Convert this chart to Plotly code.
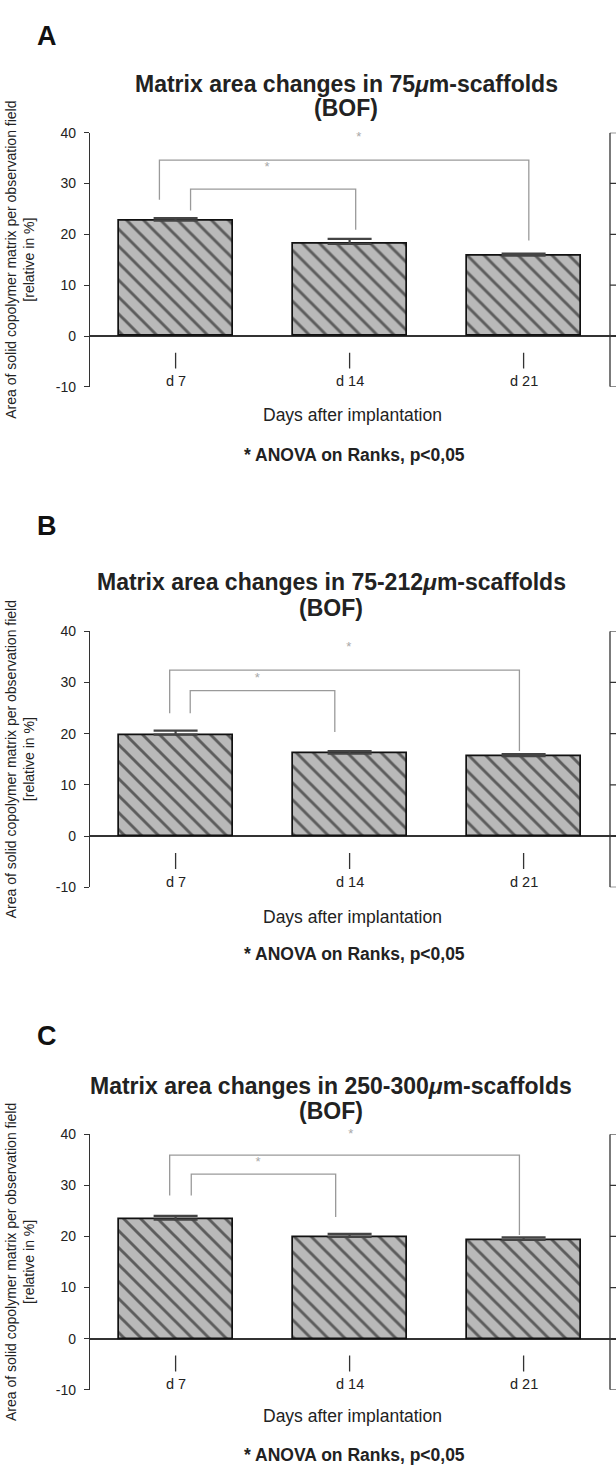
import plotly.graph_objects as go

W, H = 616, 1474

# ---------------- data ----------------
categories = ["d 7", "d 14", "d 21"]
panel_letters = ["A", "B", "C"]
titles = ["Matrix area changes in 75<i>μ</i>m-scaffolds",
          "Matrix area changes in 75-212<i>μ</i>m-scaffolds",
          "Matrix area changes in 250-300<i>μ</i>m-scaffolds"]
subtitle = "(BOF)"
means_A = [22.7, 18.1, 15.8]
sem_A = [0.5, 1.0, 0.4]
means_B = [19.8, 16.1, 15.6]
sem_B = [0.8, 0.5, 0.4]
means_C = [23.3, 19.9, 19.3]
sem_C = [0.7, 0.6, 0.5]
y_ticks = [-10, 0, 10, 20, 30, 40]
y_ticktext = ["-10", "0", "10", "20", "30", "40"]
x_title = "Days after implantation"
y_title = "Area of solid copolymer matrix per observation field<br>[relative in %]"
note = "* ANOVA on Ranks, p<0,05"

# significance brackets (x in category units, y in %)
outer_x_A = [-0.093, -0.093, 2.03, 2.03]
outer_y_A = [26.8, 34.6, 34.6, 18.8]
inner_x_A = [0.086, 0.086, 1.035, 1.035]
inner_y_A = [24.7, 28.9, 28.9, 20.9]
star_x_A = [1.053, 0.525]
star_y_A = [39.0, 33.0]

outer_x_B = [-0.034, -0.034, 1.976, 1.976]
outer_y_B = [24.0, 32.4, 32.4, 16.6]
inner_x_B = [0.084, 0.084, 0.915, 0.915]
inner_y_B = [24.0, 28.4, 28.4, 20.3]
star_x_B = [0.996, 0.47]
star_y_B = [36.7, 30.8]

outer_x_C = [-0.034, -0.034, 1.976, 1.976]
outer_y_C = [28.0, 35.9, 35.9, 20.3]
inner_x_C = [0.09, 0.09, 0.92, 0.92]
inner_y_C = [28.0, 32.2, 32.2, 23.8]
star_x_C = [1.007, 0.474]
star_y_C = [39.8, 34.4]

panels = [
    dict(means=means_A, sem=sem_A, ox=outer_x_A, oy=outer_y_A, ix=inner_x_A, iy=inner_y_A,
         sx=star_x_A, sy=star_y_A,
         top=126, bottom=383, letter_y=28, title_y=76.5, sub_y=101.5, days_y=411.5, note_y=451.5, title_x=346),
    dict(means=means_B, sem=sem_B, ox=outer_x_B, oy=outer_y_B, ix=inner_x_B, iy=inner_y_B,
         sx=star_x_B, sy=star_y_B,
         top=630, bottom=889, letter_y=524, title_y=580.5, sub_y=606.5, days_y=918.5, note_y=956.5, title_x=331),
    dict(means=means_C, sem=sem_C, ox=outer_x_C, oy=outer_y_C, ix=inner_x_C, iy=inner_y_C,
         sx=star_x_C, sy=star_y_C,
         top=1138.5, bottom=1397, letter_y=1039, title_y=1089.5, sub_y=1115.5, days_y=1423.5, note_y=1463, title_x=331),
]

FONT = "Arial, 'Liberation Sans', Helvetica, sans-serif"
TXT = "#222222"
AXC = "#333333"
GRAY = "#9a9a9a"
BAR_GRAY = "#b9b9b9"

x_pos = list(range(len(categories)))
X0_PX, X_STEP = 175.6, 174.0
x_range = [-(X0_PX - 90) / X_STEP, (616 - X0_PX) / X_STEP]


def py(px):
    return 1 - px / H


fig = go.Figure()
annotations = []
shapes = []

for i, p in enumerate(panels):
    k = "" if i == 0 else str(i + 1)
    xa, ya = "x" + k, "y" + k
    # bars
    fig.add_trace(go.Bar(
        x=x_pos, y=p["means"], xaxis=xa, yaxis=ya, width=0.655,
        marker=dict(color=BAR_GRAY, line=dict(color="#111111", width=1.7),
                    pattern=dict(shape="\\", fgcolor="#000000", bgcolor=BAR_GRAY, size=12, solidity=0.24)),
        error_y=dict(type="data", symmetric=False, array=p["sem"], arrayminus=[0] * 3,
                     color="#444444", thickness=2.2, width=22),
        showlegend=False, hoverinfo="skip"))
    # category tick marks under zero line
    tx, ty = [], []
    for c in x_pos:
        tx += [c, c, None]
        ty += [-3.3, -6.4, None]
    fig.add_trace(go.Scatter(x=tx, y=ty, xaxis=xa, yaxis=ya, mode="lines",
                             line=dict(color="#333333", width=1.3), showlegend=False, hoverinfo="skip"))
    # brackets
    for bx, by in ((p["ox"], p["oy"]), (p["ix"], p["iy"])):
        fig.add_trace(go.Scatter(x=bx, y=by, xaxis=xa, yaxis=ya, mode="lines",
                                 line=dict(color=GRAY, width=1.3), showlegend=False, hoverinfo="skip",
                                 cliponaxis=False))
    # significance stars
    fig.add_trace(go.Scatter(x=p["sx"], y=p["sy"], xaxis=xa, yaxis=ya, mode="text",
                             text=["*"] * len(p["sx"]), textposition="middle center",
                             textfont=dict(family=FONT, size=13, color="#a8a8a8"),
                             cliponaxis=False, showlegend=False, hoverinfo="skip"))
    # category labels
    for c, lab in zip(x_pos, categories):
        annotations.append(dict(x=c, y=-8.9, xref=xa, yref=ya, text=lab, showarrow=False,
                                font=dict(family=FONT, size=14.5, color=TXT),
                                xanchor="center", yanchor="middle"))
    # axes
    dom = [py(p["bottom"]), py(p["top"])]
    fig.layout["xaxis" + k] = dict(domain=[90 / W, 1], range=x_range, anchor=ya, showline=False,
                                    showgrid=False, zeroline=False, showticklabels=False, ticks="")
    fig.layout["yaxis" + k] = dict(domain=dom, range=[-10, 40], anchor=xa, tickvals=y_ticks,
                                    ticktext=y_ticktext,
                                    ticks="outside", ticklen=5, tickwidth=1.2, tickcolor=AXC,
                                    ticklabelstandoff=5,
                                    showline=True, linecolor=AXC, linewidth=1.3,
                                    zeroline=True, zerolinecolor=AXC, zerolinewidth=1.6,
                                    showgrid=False, tickfont=dict(family=FONT, size=14, color=TXT))
    # frame of the neighbouring (cut-off) chart
    fx = (610 - X0_PX) / X_STEP
    shapes.append(dict(type="line", xref=xa, yref=ya, x0=fx, x1=fx, y0=-10, y1=40,
                       line=dict(color=AXC, width=1.3)))
    for t in y_ticks:
        shapes.append(dict(type="line", xref=xa, yref=ya, x0=fx, x1=(616 - X0_PX) / X_STEP, y0=t, y1=t,
                           line=dict(color=AXC, width=1.2)))
    # texts
    annotations.append(dict(x=46.5 / W, y=py(p["letter_y"]), xref="paper", yref="paper",
                            text="<b>%s</b>" % panel_letters[i], showarrow=False,
                            font=dict(family=FONT, size=27, color="#111111"),
                            xanchor="center", yanchor="middle"))
    annotations.append(dict(x=p["title_x"] / W, y=py(p["title_y"]), xref="paper", yref="paper",
                            text="<b>%s</b>" % titles[i], showarrow=False,
                            font=dict(family=FONT, size=23, color=TXT), xanchor="center", yanchor="middle"))
    annotations.append(dict(x=p["title_x"] / W, y=py(p["sub_y"]), xref="paper", yref="paper",
                            text="<b>%s</b>" % subtitle, showarrow=False,
                            font=dict(family=FONT, size=23, color=TXT), xanchor="center", yanchor="middle"))
    annotations.append(dict(x=352 / W, y=py(p["days_y"]), xref="paper", yref="paper", text=x_title,
                            showarrow=False, font=dict(family=FONT, size=17.5, color=TXT),
                            xanchor="center", yanchor="middle"))
    annotations.append(dict(x=354 / W, y=py(p["note_y"]), xref="paper", yref="paper", text="<b>%s</b>" % note,
                            showarrow=False, font=dict(family=FONT, size=17.5, color=TXT),
                            xanchor="center", yanchor="middle"))
    annotations.append(dict(x=20 / W, y=py((p["top"] + p["bottom"]) / 2), xref="paper", yref="paper",
                            text=y_title, textangle=-90, showarrow=False,
                            font=dict(family=FONT, size=14, color=TXT), xanchor="center", yanchor="middle"))

fig.update_layout(width=W, height=H, margin=dict(l=0, r=0, t=0, b=0),
                  paper_bgcolor="white", plot_bgcolor="white", bargap=0,
                  annotations=annotations, shapes=shapes, showlegend=False)

fig.write_html("out.html", config={"displayModeBar": False},
               post_script="document.body.style.margin='0px';")
